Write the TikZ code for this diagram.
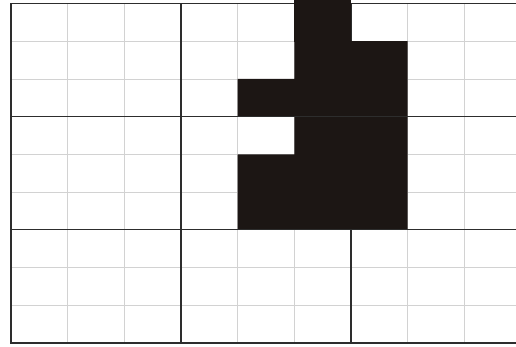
\documentclass[tikz,border=0pt]{standalone}
\definecolor{inkblack}{RGB}{28,22,20}
\definecolor{thingrid}{RGB}{210,210,210}
\definecolor{thickgrid}{RGB}{45,45,45}
\tikzset{
  thinline/.style={draw=thingrid, line width=0.8pt},
  thickline/.style={draw=thickgrid, line width=1.4pt},
  blackfill/.style={fill=inkblack, draw=none}
}
\begin{document}
\begin{tikzpicture}[x=1pt,y=-1pt]
\useasboundingbox (0,0) rectangle (516,346);
\clip (0,0) rectangle (516,346);
\fill[white] (0,0) rectangle (516,346);
\def\cw{56.667}
\def\ch{37.7}
% thin grid
\foreach \i in {1,...,8}{
  \draw[thinline] ({11+\i*\cw},3.5) -- ({11+\i*\cw},342.8);
}
\foreach \j in {1,...,8}{
  \draw[thinline] (11,{3.5+\j*\ch}) -- (521,{3.5+\j*\ch});
}
% black region
\path[blackfill] (294.3,3.5) -- (351,3.5) -- (351,41.2) -- (407.7,41.2) -- (407.7,229.7)
  -- (237.7,229.7) -- (237.7,154.3) -- (294.3,154.3) -- (294.3,116.6) -- (237.7,116.6)
  -- (237.7,78.9) -- (294.3,78.9) -- cycle;
% thick lines
\draw[thickline] (11,3.5) rectangle (521,342.8);
\draw[thickline] (181,3.5) -- (181,342.8);
\draw[thickline] (351,229.7) -- (351,342.8);
\draw[thickline] (351,3.5) -- (351,41.2);
\draw[thickline] (11,116.6) -- (521,116.6);
\draw[thickline] (11,229.7) -- (521,229.7);
% black top reaching the page edge
\path[blackfill] (294.3,0) rectangle (350.5,42);
\end{tikzpicture}
\end{document}
